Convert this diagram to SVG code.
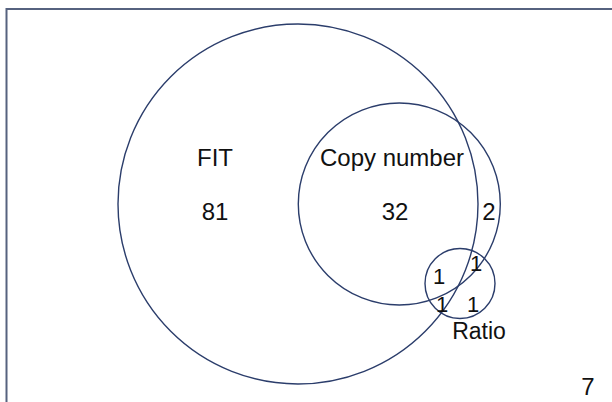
<svg xmlns="http://www.w3.org/2000/svg" width="612" height="402" viewBox="0 0 612 402">
<style>
.c{fill:none;stroke:#2b3d6b;stroke-width:1.4}
.t{font-family:"Liberation Sans",Arial,sans-serif;font-size:24px;fill:#111;text-anchor:middle}
.s{font-size:22px}
</style>
<rect x="0" y="0" width="612" height="402" fill="#fff"/>
<rect x="6.5" y="9" width="620" height="410" fill="none" stroke="#56627f" stroke-width="2"/>
<g id="fit"><circle class="c" cx="298" cy="204" r="180"/><text class="t" x="215" y="165.5">FIT</text><text class="t" x="215" y="220">81</text></g>
<g id="copy"><circle class="c" cx="399.3" cy="204" r="101"/><text class="t" x="392" y="165.5">Copy number</text><text class="t" x="395" y="220">32</text></g>
<g id="ratio"><circle class="c" cx="460" cy="283.5" r="35"/><text class="t" style="font-size:23px" x="479" y="339">Ratio</text></g>
<g id="counts">
<text class="t" x="489" y="220">2</text>
<text class="t s" x="439" y="284">1</text>
<text class="t s" x="476" y="271">1</text>
<text class="t s" x="442" y="312">1</text>
<text class="t s" x="473" y="312">1</text>
<text class="t" x="588" y="395">7</text>
</g>
</svg>
